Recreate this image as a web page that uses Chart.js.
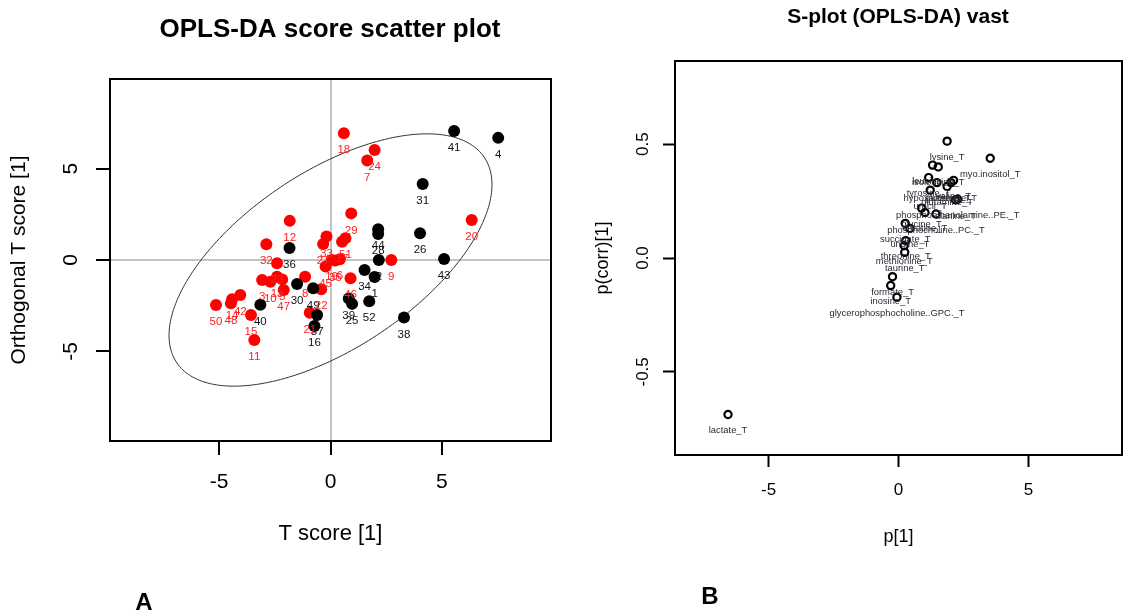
<!DOCTYPE html>
<html><head><meta charset="utf-8">
<script src="https://cdn.jsdelivr.net/npm/chart.js@4.4.1/dist/chart.umd.min.js"></script>
<style>
html,body{margin:0;padding:0;background:#fff;width:1140px;height:615px;overflow:hidden}
canvas{position:absolute;left:0;top:0}
</style></head><body>
<canvas id="c1" width="1140" height="615" style="width:1140px;height:615px"></canvas>
<canvas id="c2" width="1140" height="615" style="width:1140px;height:615px"></canvas>
<script>
// ---------- Panel A data: OPLS-DA scores ----------
const redLabels   = ['18','24','7','29','12','20','33','27','51','17','32','35','6','19','45','9','46','8','22','21','23','3','10','13','5','47','42','14','48','50','15','11'];
const redT        = [0.6,1.98,1.65,0.93,-1.83,6.34,-0.18,-0.33,0.67,0.52,-2.88,0.22,0.42,0.05,-0.22,2.73,0.9,-1.14,-0.42,-0.93,-2.4,-3.07,-2.7,-2.4,-2.17,-2.1,-4.05,-4.42,-4.47,-5.14,-3.57,-3.42];
const redOrtho    = [6.93,6.02,5.44,2.55,2.14,2.19,1.28,0.88,1.19,1.0,0.86,-0.03,0.04,0.0,-0.36,0.0,-1.0,-0.91,-1.6,-2.88,-0.18,-1.09,-1.19,-0.91,-1.06,-1.64,-1.92,-2.15,-2.37,-2.46,-3.01,-4.38];
const blackLabels = ['41','4','31','26','44','28','2','43','34','1','52','39','25','38','36','30','49','37','16','40'];
const blackT      = [5.55,7.53,4.14,4.02,2.14,2.14,2.17,5.1,1.53,1.98,1.74,0.82,0.97,3.3,-1.84,-1.5,-0.78,-0.6,-0.72,-3.15];
const blackOrtho  = [7.06,6.68,4.16,1.46,1.68,1.42,0.0,0.05,-0.55,-0.93,-2.26,-2.1,-2.4,-3.14,0.66,-1.31,-1.55,-3.01,-3.61,-2.45];
const scoreTicks  = [-5,0,5];
const scoreTickLabels = ['-5','0','5'];
// Hotelling ellipse (x half-extent, y half-extent, phase)
const ELLIPSE_X = 7.25, ELLIPSE_Y = 6.9, ELLIPSE_PHASE = 0.93;

// ---------- Panel B data: S-plot ----------
const sNames = ['lysine_T','myo.inositol_T','leucine_T','isoleucine_T','tyrosine_T','hypoxanthine_T','valine_T','glutamate_T','glutamine_T','uracil_T','phosphoethanolamine..PE._T','alanine_T','glycine_T','creatine_T','phosphocholine..PC._T','succinate_T','uridine_T','threonine_T','methionine_T','taurine_T','formate_T','inosine_T','glycerophosphocholine..GPC._T','lactate_T'];
const sP     = [1.87,3.53,1.31,1.53,1.16,1.48,2.12,2.02,1.87,1.22,2.28,2.19,0.89,1.02,1.44,0.26,0.44,0.28,0.22,0.24,-0.23,-0.30,-0.06,-6.56];
const sPcorr = [0.513,0.438,0.408,0.40,0.353,0.331,0.341,0.331,0.314,0.298,0.258,0.255,0.219,0.20,0.193,0.152,0.13,0.076,0.054,0.025,-0.082,-0.121,-0.172,-0.687];
const sTicksX = [-5,0,5];
const sTickLabelsX = ['-5','0','5'];
const sTicksY = [-0.5,0,0.5];
const sTickLabelsY = ['-0.5','0.0','0.5'];

const FONT = "'Liberation Sans', Arial, Helvetica, sans-serif";

const boxPlugin = {
  id:'box',
  afterDraw(chart){
    const {ctx, chartArea:a} = chart;
    ctx.save(); ctx.strokeStyle='#000'; ctx.lineWidth=2;
    ctx.strokeRect(a.left, a.top, a.right-a.left, a.bottom-a.top);
    ctx.restore();
  }
};
const labelPlugin = {
  id:'ptlabels',
  afterDatasetsDraw(chart){
    const ctx = chart.ctx;
    chart.data.datasets.forEach((ds,i)=>{
      const meta = chart.getDatasetMeta(i);
      ctx.save();
      ctx.font = ds.labelFont;
      ctx.fillStyle = ds.labelColor;
      ctx.textAlign='center'; ctx.textBaseline='middle';
      meta.data.forEach((el,j)=>{ ctx.fillText(ds.pointLabels[j], el.x, el.y + ds.labelOffset); });
      ctx.restore();
    });
  }
};
const ellipsePlugin = {
  id:'ellipse',
  beforeDatasetsDraw(chart){
    const {ctx, scales:{x,y}, chartArea:a} = chart;
    ctx.save();
    ctx.beginPath(); ctx.rect(a.left,a.top,a.right-a.left,a.bottom-a.top); ctx.clip();
    ctx.beginPath();
    const N=240;
    for(let k=0;k<=N;k++){
      const t = 2*Math.PI*k/N;
      const px = x.getPixelForValue(ELLIPSE_X*Math.cos(t));
      const py = y.getPixelForValue(ELLIPSE_Y*Math.cos(t-ELLIPSE_PHASE));
      if(k===0) ctx.moveTo(px,py); else ctx.lineTo(px,py);
    }
    ctx.strokeStyle='#333'; ctx.lineWidth=1; ctx.stroke();
    ctx.restore();
  }
};
const textPlugin = (items)=>({
  id:'texts',
  afterDraw(chart){
    const ctx = chart.ctx;
    items.forEach(it=>{
      ctx.save(); ctx.font = it.font; ctx.fillStyle='#000';
      ctx.textAlign='center'; ctx.textBaseline='alphabetic';
      ctx.fillText(it.text, it.x, it.y); ctx.restore();
    });
  }
});

function setTicks(vals){ return (s)=>{ s.ticks = vals.map(v=>({value:v})); }; }

// ---------- Chart A ----------
new Chart(document.getElementById('c1'), {
  type:'scatter',
  data:{datasets:[
    {data: blackT.map((v,i)=>({x:v, y:blackOrtho[i]})), backgroundColor:'#000', borderColor:'#000', borderWidth:0,
     pointRadius:6, pointHoverRadius:6, pointLabels:blackLabels, labelColor:'#111', labelFont:'11.5px '+FONT, labelOffset:17},
    {data: redT.map((v,i)=>({x:v, y:redOrtho[i]})), backgroundColor:'#ff0000', borderColor:'#ff0000', borderWidth:0,
     pointRadius:6, pointHoverRadius:6, pointLabels:redLabels, labelColor:'#ff2020', labelFont:'11.5px '+FONT, labelOffset:17}
  ]},
  options:{
    responsive:false, animation:false, events:[],
    layout:{padding:{left:0, top:79, right:589, bottom:0}},
    plugins:{legend:{display:false}, tooltip:{enabled:false}},
    scales:{
      x:{type:'linear', min:-9.9, max:9.9, afterBuildTicks:setTicks(scoreTicks), afterFit:(s)=>{s.height=174;},
        grid:{drawOnChartArea:true, color:(c)=> (c.tick && c.tick.value===0) ? '#c4c4c4' : 'rgba(0,0,0,0)', lineWidth:2, tickColor:'#000', tickLength:14, tickWidth:2},
        border:{display:false},
        ticks:{color:'#000', font:{family:FONT,size:21}, padding:15, maxRotation:0, minRotation:0, autoSkip:false,
               callback:(v,i)=>scoreTickLabels[i]},
        title:{display:true, text:'T score [1]', color:'#000', font:{family:FONT,size:22}, padding:{top:0,bottom:68}}
      },
      y:{type:'linear', min:-9.9, max:9.9, afterBuildTicks:setTicks(scoreTicks), afterFit:(s)=>{s.width=110;},
        grid:{drawOnChartArea:true, color:(c)=> (c.tick && c.tick.value===0) ? '#c4c4c4' : 'rgba(0,0,0,0)', lineWidth:2, tickColor:'#000', tickLength:14, tickWidth:2},
        border:{display:false},
        ticks:{color:'#000', font:{family:FONT,size:21}, padding:15, minRotation:90, maxRotation:90, crossAlign:'center', autoSkip:false,
               callback:(v,i)=>scoreTickLabels[i]},
        title:{display:true, text:'Orthogonal T score [1]', color:'#000', font:{family:FONT,size:21}, padding:{top:7,bottom:0}}
      }
    }
  },
  plugins:[ellipsePlugin, labelPlugin, boxPlugin, textPlugin([
    {text:'OPLS-DA score scatter plot', x:330, y:37, font:'bold 26px '+FONT},
    {text:'A', x:144, y:610, font:'bold 24px '+FONT}
  ])]
});

// ---------- Chart B ----------
new Chart(document.getElementById('c2'), {
  type:'scatter',
  data:{datasets:[
    {data: sP.map((v,i)=>({x:v, y:sPcorr[i]})), backgroundColor:'rgba(0,0,0,0)', borderColor:'#000', borderWidth:2.2,
     pointRadius:3.6, pointHoverRadius:3.6, pointLabels:sNames, labelColor:'#2a2a35', labelFont:'9.4px '+FONT, labelOffset:16}
  ]},
  options:{
    responsive:false, animation:false, events:[],
    layout:{padding:{left:575, top:61, right:18, bottom:0}},
    plugins:{legend:{display:false}, tooltip:{enabled:false}},
    scales:{
      x:{type:'linear', min:-8.6, max:8.6, afterBuildTicks:setTicks(sTicksX), afterFit:(s)=>{s.height=160;},
        grid:{drawOnChartArea:false, tickColor:'#000', tickLength:12, tickWidth:2},
        border:{display:false},
        ticks:{color:'#000', font:{family:FONT,size:17}, padding:13, maxRotation:0, minRotation:0, autoSkip:false,
               callback:(v,i)=>sTickLabelsX[i]},
        title:{display:true, text:'p[1]', color:'#000', font:{family:FONT,size:18}, padding:{top:0,bottom:67}}
      },
      y:{type:'linear', min:-0.865, max:0.865, afterBuildTicks:setTicks(sTicksY), afterFit:(s)=>{s.width=100;},
        grid:{drawOnChartArea:false, tickColor:'#000', tickLength:12, tickWidth:2},
        border:{display:false},
        ticks:{color:'#000', font:{family:FONT,size:17}, padding:5, minRotation:90, maxRotation:90, crossAlign:'center', autoSkip:false,
               callback:(v,i)=>sTickLabelsY[i]},
        title:{display:true, text:'p(corr)[1]', color:'#000', font:{family:FONT,size:18}, padding:{top:17,bottom:0}}
      }
    }
  },
  plugins:[labelPlugin, boxPlugin, textPlugin([
    {text:'S-plot (OPLS-DA) vast', x:898, y:23, font:'bold 21px '+FONT},
    {text:'B', x:710, y:604, font:'bold 24px '+FONT}
  ])]
});
</script>
</body></html>
